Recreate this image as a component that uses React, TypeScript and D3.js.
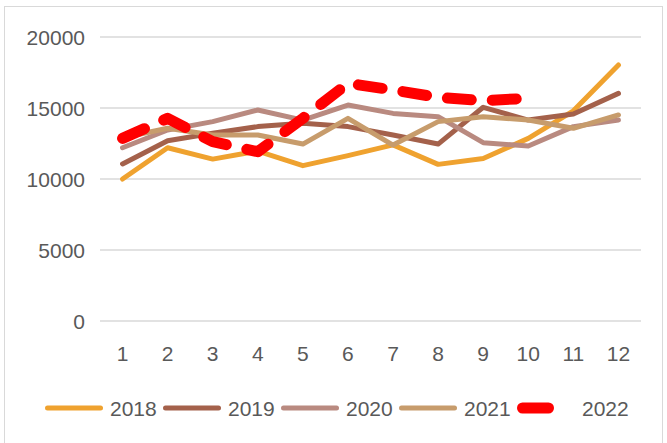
import React from 'react'
import * as d3 from 'd3'

const MONTHS = ['1', '2', '3', '4', '5', '6', '7', '8', '9', '10', '11', '12']
const Y_TICKS = [0, 5000, 10000, 15000, 20000]

const S2018 = [10000, 12200, 11400, 11970, 10940, 11650, 12400, 11030, 11450, 12860, 14800, 18030]
const S2019 = [11060, 12700, 13220, 13690, 13920, 13690, 13100, 12460, 15050, 14150, 14580, 16030]
const S2020 = [12200, 13450, 14040, 14860, 14150, 15210, 14620, 14390, 12560, 12320, 13690, 14150]
const S2021 = [12900, 13570, 13100, 13100, 12460, 14270, 12390, 14040, 14390, 14150, 13570, 14510]
const S2022 = [12860, 14270, 12630, 11920, 14270, 16740, 16270, 15750, 15510, 15690]

const SERIES = [
  { label: '2018', values: S2018, color: '#EFA22F', dashed: false },
  { label: '2019', values: S2019, color: '#A4614B', dashed: false },
  { label: '2020', values: S2020, color: '#B98A80', dashed: false },
  { label: '2021', values: S2021, color: '#C79C6C', dashed: false },
  { label: '2022', values: S2022, color: '#FF0000', dashed: true },
]

const FONT = '"Liberation Sans", Arial, sans-serif'
const TEXT = '#595959'

export default function App() {
  const W = 667
  const H = 443
  const pad = { l: 100, r: 26, t: 37, b: 122 }

  const x = d3.scaleBand().domain(MONTHS).range([pad.l, W - pad.r]).padding(0)
  const y = d3.scaleLinear().domain([0, 20000]).range([H - pad.b, pad.t])
  const cx = (m: string) => (x(m) ?? 0) + x.bandwidth() / 2

  const line = d3.line<number>()
    .x((_, i) => cx(MONTHS[i]))
    .y(d => y(d))

  const legendY = 408
  const slot = 58
  const step = 118

  return (
    <svg width={W} height={H} style={{ position: 'absolute', left: 0, top: 0, background: '#fff' }}>
      <rect x={4.5} y={6.5} width={658} height={460} fill="#fff" stroke="#D9D9D9" strokeWidth={1} />

      {Y_TICKS.map(t => (
        <g key={t}>
          <line x1={pad.l} x2={W - pad.r} y1={y(t)} y2={y(t)} stroke="#D9D9D9" strokeWidth={1.5} />
          <text x={85} y={y(t)} dy="0.36em" textAnchor="end" fontSize={21} fill={TEXT} fontFamily={FONT}>
            {t}
          </text>
        </g>
      ))}

      {MONTHS.map(m => (
        <text key={m} x={cx(m)} y={353} dy="0.36em" textAnchor="middle" fontSize={21} fill={TEXT} fontFamily={FONT}>
          {m}
        </text>
      ))}

      {SERIES.map(s => (
        <path
          key={s.label}
          d={line(s.values) ?? ''}
          fill="none"
          stroke={s.color}
          strokeWidth={s.dashed ? 11 : 5}
          strokeLinecap="round"
          strokeLinejoin="round"
          strokeDasharray={s.dashed ? '24 21' : undefined}
        />
      ))}

      {SERIES.map((s, i) => {
        const x0 = 45 + i * step
        return (
          <g key={s.label}>
            {s.dashed ? (
              <line x1={x0 + 5.5} x2={x0 + 31.5} y1={legendY} y2={legendY} stroke={s.color} strokeWidth={11} strokeLinecap="round" />
            ) : (
              <line x1={x0 + 2.5} x2={x0 + slot - 2.5} y1={legendY} y2={legendY} stroke={s.color} strokeWidth={5} strokeLinecap="round" />
            )}
            <text x={x0 + slot + 7} y={legendY} dy="0.36em" fontSize={21} fill={TEXT} fontFamily={FONT}>
              {s.label}
            </text>
          </g>
        )
      })}
    </svg>
  )
}
